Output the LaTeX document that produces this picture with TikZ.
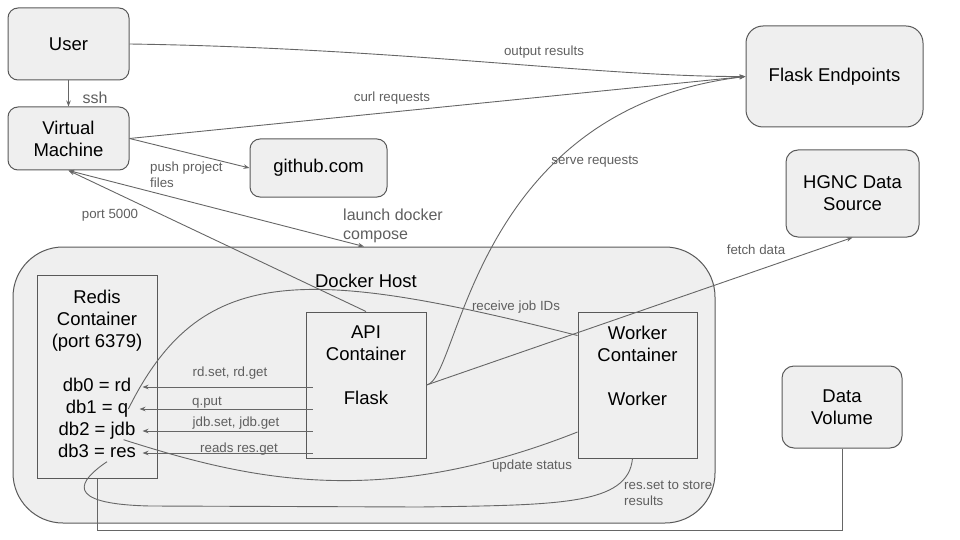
\documentclass[tikz,border=0pt]{standalone}
\usepackage{fontspec}
\setmainfont{Liberation Sans}
\usetikzlibrary{arrows.meta}
\definecolor{boxfill}{HTML}{EFEFEF}
\definecolor{boxline}{HTML}{595959}
\definecolor{wiregray}{HTML}{666666}
\definecolor{labelgray}{HTML}{5F5F5F}
\tikzset{
  rbox/.style={draw=boxline, fill=boxfill, line width=1pt, rounded corners=10pt,
    inner sep=0pt, align=center, font=\fontsize{18.5}{22}\selectfont},
  cbox/.style={draw=boxline, fill=boxfill, line width=1pt, inner sep=0pt},
  btext/.style={inner sep=0pt, align=center, font=\fontsize{18.5}{22}\selectfont},
  dbtext/.style={btext, text height=13pt, text depth=4pt},
  lbl/.style={inner sep=0pt, text=labelgray, font=\fontsize{13.3}{16}\selectfont},
  biglbl/.style={lbl, font=\fontsize{16}{19}\selectfont},
  wire/.style={draw=wiregray, line width=0.9pt},
  arr/.style={wire, -{Stealth[length=6pt,width=4.5pt]}},
  arrboth/.style={wire, {Stealth[length=6pt,width=4.5pt]}-{Stealth[length=6pt,width=4.5pt]}},
}
\begin{document}
\begin{tikzpicture}[x=1pt, y=-1pt]
\useasboundingbox (0,0) rectangle (960,540);

% docker host with its containers
\node[rbox, rounded corners=50pt, minimum width=702pt, minimum height=276pt] (docker) at (364,385) {};
\node[btext] (dockertext) at (366,281) {Docker Host};
\node[cbox, minimum width=120pt, minimum height=203pt] (redis) at (97,376.5) {};
\node[cbox, minimum width=120pt, minimum height=146pt] (api) at (366,385) {};
\node[cbox, minimum width=119pt, minimum height=146pt] (worker) at (637.5,385) {};
\node[btext, anchor=north] (redistext) at ([yshift=-15pt]redis.north) {Redis\\Container\\(port 6379)};
\node[dbtext] (db0) at (97,387) {db0 = rd};
\node[dbtext] (db1) at (97,409) {db1 = q};
\node[dbtext] (db2) at (97,431) {db2 = jdb};
\node[dbtext] (db3) at (97,453) {db3 = res};
\node[btext, anchor=north] (apitext) at ([yshift=-14pt]api.north) {API\\Container\\[22pt]Flask};
\node[btext, anchor=north] (workertext) at ([yshift=-14pt]worker.north) {Worker\\Container\\[22pt]Worker};

% outside boxes
\node[rbox, minimum width=121pt, minimum height=72pt] (user) at (68.5,44) {User};
\node[rbox, minimum width=121pt, minimum height=63pt] (vm) at (68.5,138.5) {Virtual\\Machine};
\node[rbox, minimum width=137pt, minimum height=58pt] (github) at (318.5,168) {github.com};
\node[rbox, rounded corners=17pt, minimum width=177pt, minimum height=101pt] (flask) at (834.5,76.5) {Flask Endpoints};
\node[rbox, rounded corners=12pt, minimum width=133pt, minimum height=87pt] (hgnc) at (852.5,193.5) {HGNC Data\\Source};
\node[rbox, rounded corners=12pt, minimum width=120pt, minimum height=82pt] (volume) at (842,407) {Data\\Volume};

% connectors
\draw[arr] (user.south) -- (vm.north);
\draw[arr] (user.east) .. controls (400,48) and (600,77) .. (flask.west);
\draw[arr] (vm.east) -- (flask.west);
\draw[arr] (vm.east) -- (github.west);
\draw[arrboth] (vm.south) -- (docker.north);
\draw[arr] (api.north) -- (vm.south);
\draw[arr] (api.east) .. controls (460,380) and (470,110) .. (flask.west);
\draw[arr] (api.east) -- (hgnc.south);
\draw[arr, shorten <=-7pt, shorten >=-15pt] (api.west |- db0) -- (redis.east |- db0);
\draw[arr, shorten <=-7pt, shorten >=-18pt] (api.west |- db1) -- (redis.east |- db1);
\draw[arr, shorten <=-7pt, shorten >=-15pt] (api.west |- db2) -- (redis.east |- db2);
\draw[arr, shorten <=-7pt, shorten >=-15pt] (api.west |- db3) -- (redis.east |- db3);
\draw[wire] (db1.east) .. controls (200,265) and (300,265) .. ([yshift=-24pt]worker.north west);
\draw[wire] ([xshift=-12pt]db2.south east) .. controls (250,480) and (380,510) .. ([yshift=-47pt]worker.west);
\draw[wire] ([xshift=-5pt]worker.south) .. controls (628,505) and (560,505) .. (420,507)
  -- (150,506) .. controls (60,504) and (80,480) .. ([xshift=10pt]db3.south);
\draw[wire] (volume.south) -- ++(0,82) -| (redis.south);

% labels
\node[biglbl] (sshlbl) at (95,98) {ssh};
\node[lbl] (outlbl) at (544,52) {output results};
\node[lbl] (curllbl) at (392,98) {curl requests};
\node[lbl, align=left, anchor=west] (pushlbl) at (150,175) {push project\\files};
\node[lbl] (portlbl) at (110,215) {port 5000};
\node[biglbl, align=left, anchor=west] (launchlbl) at (343,226) {launch docker\\compose};
\node[lbl] (servelbl) at (595,162) {serve requests};
\node[lbl] (fetchlbl) at (756,250) {fetch data};
\node[lbl] (recvlbl) at (516,307) {receive job IDs};
\node[lbl] (rdlbl) at (230,373) {rd.set, rd.get};
\node[lbl] (qlbl) at (207,403) {q.put};
\node[lbl] (jdblbl) at (236,423) {jdb.set, jdb.get};
\node[lbl] (reslbl) at (239,449) {reads res.get};
\node[lbl] (statuslbl) at (532,466) {update status};
\node[lbl, align=left, anchor=west] (storelbl) at (624,493) {res.set to store\\results};
\end{tikzpicture}
\end{document}
